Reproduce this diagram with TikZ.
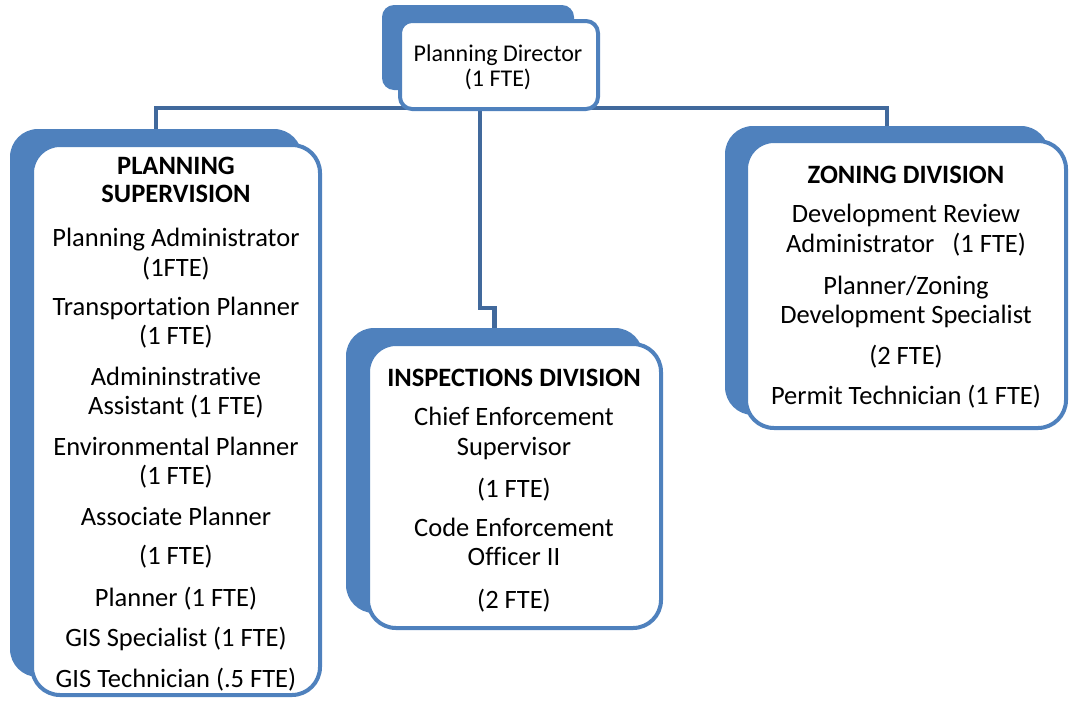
\documentclass[tikz,border=0pt]{standalone}
\usepackage{fontspec}
\setmainfont[RawFeature={-liga;-clig;-calt;-dlig}]{Carlito}
\usetikzlibrary{backgrounds}
\definecolor{accent}{HTML}{4F81BD}
\definecolor{linkblue}{HTML}{41699C}
\begin{document}
\begin{tikzpicture}[x=1pt,y=-1pt,
  shadowbox/.style={fill=accent, rounded corners=#1, inner sep=0pt, outer sep=0pt},
  frontbox/.style={draw=accent, line width=4pt, fill=white, rounded corners=#1, inner sep=0pt, outer sep=0pt},
  conn/.style={draw=linkblue, line width=4.5pt},
  txt/.style={anchor=base, inner sep=0pt, font=\fontsize{26.5}{30}\selectfont},
  head/.style={anchor=base, inner sep=0pt, font=\fontsize{26.5}{30}\selectfont\bfseries},
  small/.style={anchor=base, inner sep=0pt, font=\fontsize{24}{28}\selectfont}]
\useasboundingbox (0,0) rectangle (1070,702);

% offset backing shapes
\node[shadowbox=12pt, minimum width=192pt, minimum height=85pt]  (pdsh) at (478,47.5) {};
\node[shadowbox=28pt, minimum width=292pt, minimum height=548pt] (plsh) at (156,403) {};
\node[shadowbox=28pt, minimum width=297pt, minimum height=285pt] (insh) at (494.5,470.5) {};
\node[shadowbox=28pt, minimum width=324pt, minimum height=289pt] (znsh) at (887,270.5) {};

% reporting lines, kept behind the boxes
\coordinate (bus) at (480,108);
\coordinate (elbow) at (480,308);
\begin{scope}[on background layer]
\draw[conn] (plsh.north) |- (bus) -| (znsh.north);
\draw[conn] (bus) -- (elbow) -| (insh.north);
\end{scope}

% front boxes
\node[frontbox=12pt, minimum width=198pt, minimum height=88pt]  (pd) at (499,65) {};
\node[frontbox=28pt, minimum width=288pt, minimum height=550pt] (pl) at (176,420) {};
\node[frontbox=28pt, minimum width=293pt, minimum height=284pt] (in) at (514.5,486) {};
\node[frontbox=28pt, minimum width=320pt, minimum height=287pt] (zn) at (906,284.5) {};

% director
\node[small] (pd1) at (498,61) {Planning Director};
\node[small] (pd2) at (498,86) {(1 FTE)};

% planning supervision
\node[head] (pl1)  at (176,174) {PLANNING};
\node[head] (pl2)  at (176,202) {SUPERVISION};
\node[txt]  (pl3)  at (176,246) {Planning Administrator};
\node[txt]  (pl4)  at (176,276) {(1FTE)};
\node[txt]  (pl5)  at (176,315) {Transportation Planner};
\node[txt]  (pl6)  at (176,344) {(1 FTE)};
\node[txt]  (pl7)  at (176,385) {Admininstrative};
\node[txt]  (pl8)  at (176,414) {Assistant (1 FTE)};
\node[txt]  (pl9)  at (176,455) {Environmental Planner};
\node[txt]  (pl10) at (176,484) {(1 FTE)};
\node[txt]  (pl11) at (176,525) {Associate Planner};
\node[txt]  (pl12) at (176,564) {(1 FTE)};
\node[txt]  (pl13) at (176,606) {Planner (1 FTE)};
\node[txt]  (pl14) at (176,646) {GIS Specialist (1 FTE)};
\node[txt]  (pl15) at (176,687) {GIS Technician (.5 FTE)};

% inspections division
\node[head] (in1) at (514,386) {INSPECTIONS DIVISION};
\node[txt]  (in2) at (514,425) {Chief Enforcement};
\node[txt]  (in3) at (514,455) {Supervisor};
\node[txt]  (in4) at (514,497) {(1 FTE)};
\node[txt]  (in5) at (514,536) {Code Enforcement};
\node[txt]  (in6) at (514,565) {Officer II};
\node[txt]  (in7) at (514,608) {(2 FTE)};

% zoning division
\node[head] (zn1) at (906,183) {ZONING DIVISION};
\node[txt]  (zn2) at (906,222) {Development Review};
\node[txt]  (zn3) at (906,252) {Administrator\ \ \ (1 FTE)};
\node[txt]  (zn4) at (906,294) {Planner/Zoning};
\node[txt]  (zn5) at (906,323) {Development Specialist};
\node[txt]  (zn6) at (906,364) {(2 FTE)};
\node[txt]  (zn7) at (906,404) {Permit Technician (1 FTE)};
\end{tikzpicture}
\end{document}
